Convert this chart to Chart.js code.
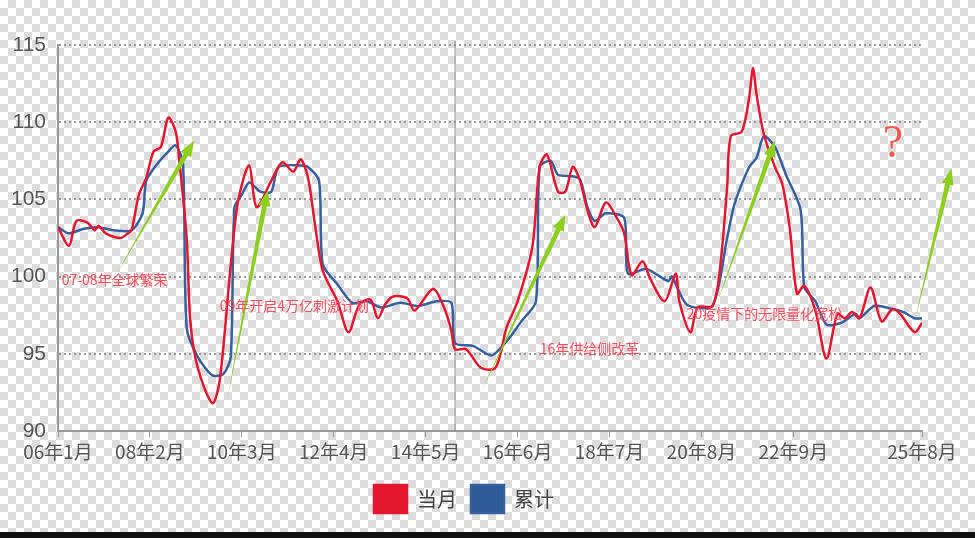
<!DOCTYPE html>
<html>
<head>
<meta charset="utf-8">
<script src="https://cdn.jsdelivr.net/npm/chart.js@4"></script>
<style>
  html { background: #fff; }
  html, body { margin: 0; padding: 0; }
  body {
    width: 975px; height: 538px; overflow: hidden;
    background-color: #fff;
    background-image:
      linear-gradient(45deg, #dcdcdc 25%, transparent 25%, transparent 75%, #dcdcdc 75%),
      linear-gradient(45deg, #dcdcdc 25%, transparent 25%, transparent 75%, #dcdcdc 75%);
    background-size: 16px 16px;
    background-position: 0 0, 8px 8px;
  }
  #wrap { position: relative; width: 975px; height: 532px; }
  #bar { height: 6px; background: #111; }
</style>
</head>
<body>
<div id="wrap"><canvas id="myChart"></canvas></div>
<div id="bar"></div>
<script>
// month index 0 = 06年1月
var tickMonths = [0, 25, 50, 75, 100, 125, 150, 175, 200, 235];
var tickLabels = ["06年1月", "08年2月", "10年3月", "12年4月", "14年5月", "16年6月", "18年7月", "20年8月", "22年9月", "25年8月"];

// 当月
var redMonths = [0, 3, 5, 8, 10, 11, 13, 17, 19, 20, 22, 24, 26, 28, 30, 32, 33, 35, 36, 38, 42, 44, 47, 49, 52, 54, 58, 61, 64, 66, 68, 70, 72, 76, 79, 82, 85, 87, 89, 91, 95, 97, 102, 105, 107, 108, 111, 115, 119, 122, 125, 129, 131, 133, 136, 138, 140, 142, 144, 146, 149, 152, 154, 156, 159, 161, 165, 168, 169, 172, 174, 178, 180, 182, 183, 186, 188, 189, 190, 192, 195, 197, 199, 201, 203, 206, 209, 212, 214, 216, 218, 221, 224, 227, 229, 233, 235];
var redValues = [103.2, 102.0, 103.6, 103.5, 103.0, 103.3, 102.8, 102.5, 102.8, 103.0, 105.3, 106.4, 108.1, 108.4, 110.3, 109.4, 107.5, 102.5, 97.1, 94.1, 91.8, 93.3, 100.8, 104.9, 107.2, 104.5, 106.2, 107.4, 106.8, 107.6, 106.4, 103.2, 100.4, 98.4, 96.4, 98.2, 98.5, 97.3, 98.2, 98.7, 98.6, 97.8, 99.2, 98.0, 96.5, 95.3, 95.3, 94.1, 94.1, 96.7, 98.4, 101.9, 107.1, 107.9, 105.5, 105.5, 107.1, 106.2, 104.3, 103.2, 104.8, 103.8, 102.8, 100.1, 101.0, 99.9, 98.4, 100.2, 98.4, 96.4, 98.0, 98.1, 100.4, 105.8, 109.1, 109.4, 111.6, 113.5, 111.8, 109.2, 107.1, 106.0, 103.2, 98.9, 99.4, 97.8, 94.7, 97.6, 97.3, 97.7, 97.3, 99.3, 97.1, 97.9, 97.6, 96.4, 97.0];

// 累计
var blueMonths = [0, 3, 7, 11, 15, 20, 23, 24, 27, 30, 32, 34, 35, 38, 42, 45, 47, 48, 50, 52, 55, 58, 60, 66, 68, 71, 72, 76, 80, 84, 88, 93, 98, 103, 107, 108, 113, 118, 123, 126, 130, 131, 134, 136, 140, 142, 144, 146, 149, 154, 155, 160, 166, 167, 171, 178, 182, 184, 188, 190, 192, 195, 198, 202, 203, 206, 209, 213, 217, 218, 222, 227, 230, 233, 235];
var blueValues = [103.2, 102.8, 103.1, 103.2, 103.0, 103.0, 104.1, 106.2, 107.3, 108.1, 108.5, 107.3, 96.7, 94.8, 93.6, 93.7, 94.8, 104.5, 105.3, 106.1, 105.5, 105.5, 107.1, 107.2, 107.1, 106.2, 100.8, 99.5, 98.3, 98.4, 98.0, 98.3, 98.1, 98.4, 98.3, 95.7, 95.5, 94.9, 96.1, 97.1, 98.4, 107.1, 107.5, 106.6, 106.5, 106.3, 104.5, 103.6, 104.1, 103.8, 100.2, 100.5, 99.7, 100.0, 98.2, 98.1, 102.5, 104.7, 107.1, 107.7, 109.1, 108.4, 106.6, 104.3, 99.3, 98.4, 96.9, 97.0, 97.6, 97.3, 98.1, 97.9, 97.7, 97.3, 97.3];

var notes = [
    { text: "07-08年全球繁荣", m: 1, v: 99.8 },
    { text: "09年开启4万亿刺激计划", m: 44, v: 98.1 },
    { text: "16年供给侧改革", m: 131, v: 95.3 },
    { text: "20疫情下的无限量化宽松", m: 171, v: 97.6 }
];
var arrows = [
    [16, 100.2, 37, 108.8],
    [46, 92.0, 57, 105.6],
    [115, 92.5, 138, 104.0],
    [179, 98.1, 195, 108.8],
    [233, 97.1, 243, 107.0]
];
var splitMonth = 108;

function toPoints(ms, vs) {
    var out = [];
    for (var i = 0; i < ms.length; i++) out.push({ x: ms[i], y: vs[i] });
    return out;
}

var extras = {
    id: 'extras',
    beforeDatasetsDraw: function (chart) {
        var c = chart.ctx, x = chart.scales.x;
        c.save();
        c.strokeStyle = '#8c8c8c';
        c.lineWidth = 1;
        c.beginPath();
        c.moveTo(x.getPixelForValue(splitMonth), chart.chartArea.top - 4);
        c.lineTo(x.getPixelForValue(splitMonth), chart.chartArea.bottom);
        c.stroke();
        c.restore();
    },
    afterDatasetsDraw: function (chart) {
        var c = chart.ctx, x = chart.scales.x, y = chart.scales.y;
        c.save();
        arrows.forEach(function (a) {
            var x1 = x.getPixelForValue(a[0]), y1 = y.getPixelForValue(a[1]);
            var x2 = x.getPixelForValue(a[2]), y2 = y.getPixelForValue(a[3]);
            var ang = Math.atan2(y2 - y1, x2 - x1);
            var bx = x2 - 16 * Math.cos(ang), by = y2 - 16 * Math.sin(ang);
            c.fillStyle = '#8ccf1e';
            c.beginPath();
            c.moveTo(x1, y1);
            c.lineTo(bx - 2.5 * Math.sin(ang), by + 2.5 * Math.cos(ang));
            c.lineTo(bx - 6 * Math.sin(ang), by + 6 * Math.cos(ang));
            c.lineTo(x2, y2);
            c.lineTo(bx + 6 * Math.sin(ang), by - 6 * Math.cos(ang));
            c.lineTo(bx + 2.5 * Math.sin(ang), by - 2.5 * Math.cos(ang));
            c.closePath();
            c.fill();
        });
        c.fillStyle = '#ee5060';
        c.font = '14px "Noto Sans CJK SC"';
        c.textBaseline = 'middle';
        notes.forEach(function (n) {
            c.fillText(n.text, x.getPixelForValue(n.m), y.getPixelForValue(n.v));
        });
        c.font = '46px "Liberation Serif"';
        c.fillStyle = '#f05a4a';
        c.textAlign = 'center';
        c.fillText('?', 893, 145);
        c.restore();
    }
};

var ctx = document.getElementById("myChart").getContext('2d');
var myChart = new Chart(ctx, {
    type: 'line',
    data: {
        datasets: [{
            label: '当月',
            data: toPoints(redMonths, redValues),
            borderColor: '#e3172f',
            backgroundColor: '#e3172f',
            borderWidth: 2.5,
            pointRadius: 0,
            tension: 0.3
        }, {
            label: '累计',
            data: toPoints(blueMonths, blueValues),
            borderColor: '#35619e',
            backgroundColor: '#2f5a98',
            borderWidth: 2.5,
            pointRadius: 0,
            tension: 0.25
        }]
    },
    options: {
        responsive: true,
        maintainAspectRatio: false,
        animation: false,
        layout: { padding: { top: 45, right: 53, left: 6, bottom: 9 } },
        plugins: {
            tooltip: { enabled: false },
            legend: {
                position: 'bottom',
                labels: {
                    boxWidth: 33, boxHeight: 28, padding: 14,
                    color: '#444',
                    font: { size: 20, family: '"Noto Sans CJK SC"' }
                }
            }
        },
        scales: {
            x: {
                type: 'linear', min: 0, max: 235,
                afterBuildTicks: function (s) { s.ticks = tickMonths.map(function (m) { return { value: m }; }); },
                afterFit: function (s) { s.height = 40; },
                ticks: {
                    autoSkip: false, maxRotation: 0, color: '#555',
                    font: { size: 19, family: '"Liberation Sans Narrow", "Noto Sans CJK SC"' },
                    callback: function (v) { return tickLabels[tickMonths.indexOf(v)]; }
                },
                grid: { drawOnChartArea: false, color: '#999', tickLength: 6 },
                border: { color: '#999', width: 2 }
            },
            y: {
                min: 90, max: 115,
                afterFit: function (s) { s.width = 52; },
                ticks: {
                    stepSize: 5, color: '#555', padding: 12,
                    font: { size: 21, family: '"Liberation Sans Narrow", sans-serif' }
                },
                grid: { color: '#9a9a9a', lineWidth: 2, drawTicks: false },
                border: { color: '#999', width: 2, dash: [2, 3] }
            }
        }
    },
    plugins: [extras]
});
</script>
</body>
</html>
